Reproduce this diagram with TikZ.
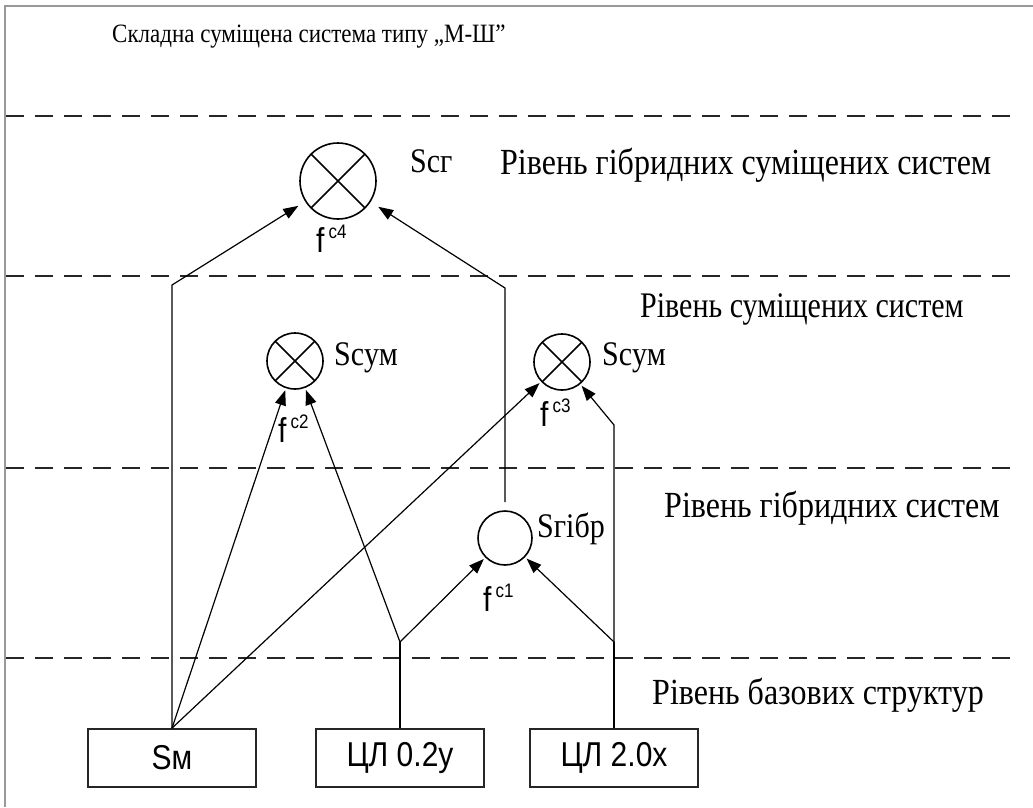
\documentclass[tikz,border=0pt]{standalone}
\usepackage{fontspec}
\setmainfont{Liberation Serif}
\newfontfamily\arialfont{Liberation Sans}
\usetikzlibrary{arrows.meta}
\newcommand\vstretch[1]{\scalebox{1}[1.15]{#1}}
\begin{document}
\begin{tikzpicture}[x=1pt,y=-1pt,
  conn/.style={line width=1.2pt,-{Triangle[length=15pt,width=11pt]}},
  plainline/.style={line width=1.2pt},
  levelline/.style={line width=1.5pt,dash pattern=on 18pt off 11pt,black!85},
  xcirc/.style={circle,draw,line width=1.6pt,minimum size=#1,inner sep=0pt,
    path picture={\draw[line width=1.6pt] (path picture bounding box.north west) -- (path picture bounding box.south east)
      (path picture bounding box.north east) -- (path picture bounding box.south west);}},
  ocirc/.style={circle,draw,line width=1.6pt,minimum size=#1,inner sep=0pt},
  basebox/.style={draw=black!85,line width=1.8pt,minimum width=168pt,minimum height=58pt,inner sep=0pt,
    font=\arialfont\fontsize{30}{30}\selectfont},
  leveltext/.style={anchor=base west,inner sep=0pt,font=\fontsize{32}{32}\selectfont},
  sysname/.style={anchor=base west,inner sep=0pt,font=\fontsize{30}{30}\selectfont},
  flabel/.style={anchor=base west,inner sep=0pt,font=\arialfont\fontsize{30}{30}\selectfont},
]
\useasboundingbox (0,0) rectangle (1033,807);
% frame (top and left visible)
\draw[line width=2pt,black!40] (5,807) -- (5,6) -- (1033,6);

% title
\node[anchor=base west,inner sep=0pt,font=\fontsize{23}{23}\selectfont] (title) at (112,42) {\vstretch{Складна суміщена система типу „М-Ш”}};

% level lines
\draw[levelline] (6,116) -- (1012,116);
\draw[levelline] (6,276) -- (1012,276);
\draw[levelline] (6,468) -- (1012,468);
\draw[levelline] (6,658) -- (1012,658);

% level labels
\node[leveltext] (l1) at (500,174) {\vstretch{Рівень гібридних суміщених систем}};
\node[leveltext,font=\fontsize{30}{30}\selectfont] (l2) at (640,317) {\scalebox{1}[1.2]{Рівень суміщених систем}};
\node[leveltext] (l3) at (664,517) {\vstretch{Рівень гібридних систем}};
\node[leveltext] (l4) at (652,704) {\vstretch{Рівень базових структур}};

% circles
\node[xcirc=76pt] (scg) at (338,181) {};
\node[xcirc=56pt] (suml) at (295,361) {};
\node[xcirc=56pt] (sumr) at (562,362) {};
\node[ocirc=54pt] (hib) at (505,538) {};

% circle labels
\node[sysname] (scgl) at (410,172) {\vstretch{Scг}};
\node[sysname] (sumll) at (334,365) {\vstretch{Scум}};
\node[sysname] (sumrl) at (602,365) {\vstretch{Scум}};
\node[sysname] (hibl) at (537,537) {\vstretch{Sгібр}};

% f labels
\node[flabel] (f4) at (316,252) {\vstretch{f}\hspace{4pt}\raisebox{14pt}{\fontsize{17}{17}\selectfont\vstretch{c4}}};
\node[flabel] (f2) at (278,442) {\vstretch{f}\hspace{4pt}\raisebox{14pt}{\fontsize{17}{17}\selectfont\vstretch{c2}}};
\node[flabel] (f3) at (540,426) {\vstretch{f}\hspace{4pt}\raisebox{14pt}{\fontsize{17}{17}\selectfont\vstretch{c3}}};
\node[flabel] (f1) at (483,611) {\vstretch{f}\hspace{4pt}\raisebox{14pt}{\fontsize{17}{17}\selectfont\vstretch{c1}}};

% base boxes
\node[basebox] (sm) at (172,758) {\vstretch{Sм}};
\node[basebox] (cl02) at (400,758) {\vstretch{ЦЛ 0.2y}};
\node[basebox] (cl20) at (614,758) {\vstretch{ЦЛ 2.0x}};

% junction / bend coordinates
\coordinate (k1) at (172,285);
\coordinate (k2) at (505,288);
\coordinate (j1) at (400,642);
\coordinate (j2) at (614,642);
\coordinate (k3) at (614,425);

% connectors
\draw[conn,shorten >=8pt] (sm.north) -- (k1) -- (scg);
\draw[conn,shorten >=9pt,shorten <=8pt] (hib.north) -- (k2) -- (scg);
\draw[conn,shorten >=2pt] (sm.north) -- (suml);
\draw[conn,shorten >=2pt] (sm.north) -- (sumr);
\draw[plainline] (cl02.north) -- (j1);
\draw[conn,shorten >=2pt] (j1) -- (suml);
\draw[conn,shorten >=2pt] (j1) -- (hib);
\draw[plainline] (cl20.north) -- (j2);
\draw[conn,shorten >=2pt] (j2) -- (hib);
\draw[conn,shorten >=2pt] (j2) -- (k3) -- (sumr);
\end{tikzpicture}
\end{document}
